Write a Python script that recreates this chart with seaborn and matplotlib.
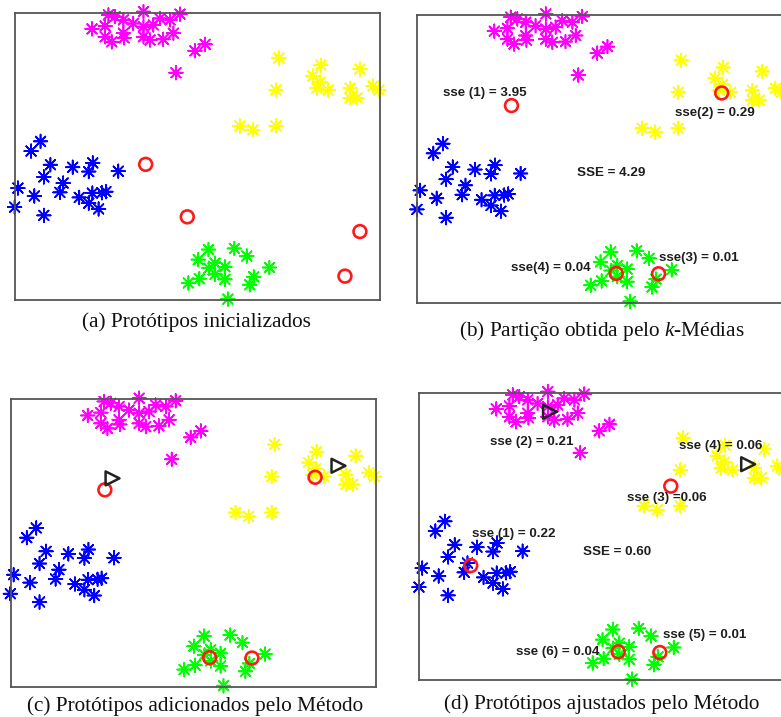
import numpy as np
import pandas as pd
import matplotlib
matplotlib.use("Agg")
import matplotlib.pyplot as plt
import seaborn as sns

# ---- data -------------------------------------------------------------
mag_x = [2.11, 2.47, 2.56, 2.74, 2.47, 2.65, 2.97, 2.97, 2.99, 3.24, 3.52, 3.52,
         3.52, 3.70, 3.79, 3.97, 4.06, 4.25, 4.34, 4.52, 4.93, 5.21, 4.41]
mag_y = [7.55, 7.63, 7.94, 7.89, 7.33, 7.19, 7.80, 7.43, 7.30, 7.70, 8.03, 7.61,
         7.33, 7.24, 7.66, 7.84, 7.26, 7.80, 7.43, 7.96, 6.94, 7.12, 6.33]

yel_x = [7.23, 8.38, 8.16, 8.36, 8.27, 8.58, 9.45, 7.15, 9.18, 9.18, 9.37, 9.81,
         9.97, 6.16, 6.52, 7.15]
yel_y = [6.74, 6.54, 6.24, 6.07, 5.90, 5.85, 6.43, 5.85, 5.90, 5.63, 5.63, 5.96,
         5.85, 4.85, 4.74, 4.85]

blu_x = [0.70, 0.44, 0.97, 1.58, 2.13, 2.02, 2.83, 0.79, 1.32, 1.23, 0.08, 0.53,
         1.76, 2.12, 2.38, 2.49, 2.02, 2.29, -0.01, 0.79]
blu_y = [4.42, 4.15, 3.77, 3.70, 3.82, 3.58, 3.59, 3.43, 3.26, 3.00, 3.12, 2.90,
         2.86, 2.98, 2.99, 3.02, 2.70, 2.54, 2.59, 2.36]

grn_x = [5.30, 6.01, 5.02, 6.35, 5.48, 5.31, 5.75, 5.48, 5.75, 6.97, 6.54, 6.43,
         4.75, 5.05, 5.83]
grn_y = [1.41, 1.44, 1.13, 1.23, 1.03, 0.89, 0.93, 0.72, 0.58, 0.91, 0.65, 0.43,
         0.48, 0.60, 0.03]

# prototypes (red circles) per stage
proto_init_x = [3.58, 4.72, 9.45, 9.04]
proto_init_y = [3.78, 2.32, 1.91, 0.67]
proto_km_x = [2.58, 8.34, 5.45, 6.61]
proto_km_y = [5.48, 5.83, 0.81, 0.80]
proto_adj_x = [1.41, 6.89, 5.45, 6.59]
proto_adj_y = [3.19, 5.40, 0.79, 0.77]

# prototypes added by the method (black triangles)
added_c_x = [2.79, 8.98]
added_c_y = [5.80, 6.15]
added_d_x = [3.58, 9.01]
added_d_y = [7.47, 6.01]

# error labels
sse_b = ["sse (1) = 3.95", "sse(2) = 0.29", "SSE = 4.29", "sse(4) = 0.04", "sse(3) = 0.01"]
sse_b_x = [1.85, 8.14, 5.32, 3.66, 7.72]
sse_b_y = [5.83, 5.27, 3.60, 0.96, 1.24]
sse_d = ["sse (2) = 0.21", "sse (4) = 0.06", "sse (3) =0.06", "sse (1) = 0.22",
         "SSE = 0.60", "sse (5) = 0.01", "sse (6) = 0.04"]
sse_d_x = [3.07, 8.27, 6.79, 2.58, 5.42, 7.81, 3.79]
sse_d_y = [6.64, 6.52, 5.07, 4.07, 3.57, 1.26, 0.78]

captions = ["(a) Protótipos inicializados",
            "(b) Partição obtida pelo $\\mathit{k}$-Médias",
            "(c) Protótipos adicionados pelo Método",
            "(d) Protótipos ajustados pelo Método"]

groups = ["g1", "g2", "g3", "g4"]
palette = {"g1": "#ff00ff", "g2": "#ffff00", "g3": "#0000ff", "g4": "#00ff00"}

pts = pd.DataFrame({
    "x": mag_x + yel_x + blu_x + grn_x,
    "y": mag_y + yel_y + blu_y + grn_y,
    "grupo": ["g1"] * len(mag_x) + ["g2"] * len(yel_x)
             + ["g3"] * len(blu_x) + ["g4"] * len(grn_x),
})

# ---- figure -----------------------------------------------------------
sns.set_style("white")
plt.rcParams["mathtext.fontset"] = "custom"
plt.rcParams["mathtext.it"] = "Liberation Serif:italic"
plt.rcParams["mathtext.rm"] = "Liberation Serif"

W, H = 781, 717
fig = plt.figure(figsize=(W / 100, H / 100), dpi=100)

# axes boxes in pixels: left, top
boxes = [(15.0, 12.7), (417.3, 15.0), (10.7, 399.3), (419.3, 392.7)]
AW, AH = 365.0, 287.5
cap_pos = [(196, 327), (602, 336), (195, 711), (602, 709)]

asterisk = (8, 2, 0)


def make_axes(left, top):
    ax = fig.add_axes([left / W, 1 - (top + AH) / H, AW / W, AH / H])
    ax.set_xlim(0, 10)
    ax.set_ylim(0, 8)
    ax.set_xticks([])
    ax.set_yticks([])
    for s in ax.spines.values():
        s.set_color("#555555")
        s.set_linewidth(1.3)
        s.set_visible(True)
    return ax


def draw_points(ax):
    sns.scatterplot(data=pts, x="x", y="y", hue="grupo", palette=palette,
                    hue_order=groups, marker=asterisk, s=95, linewidth=1.2,
                    legend=False, ax=ax, clip_on=False, zorder=2)
    ax.set_xlabel("")
    ax.set_ylabel("")


def draw_protos(ax, xs, ys):
    ax.scatter(xs, ys, s=85, facecolors="none", edgecolors="#ff1a1a",
               linewidths=1.9, zorder=4, clip_on=False)


def draw_added(ax, xs, ys):
    ax.scatter(xs, ys, marker=">", s=100, facecolors="none",
               edgecolors="#222222", linewidths=1.8, zorder=5, clip_on=False)


def draw_labels(ax, texts, xs, ys):
    for t, x, y in zip(texts, xs, ys):
        ax.text(x, y, t, ha="center", va="center", fontsize=9.6,
                fontweight="bold", family="Liberation Sans", color="#1e1e1e",
                zorder=6)


axes = [make_axes(*b) for b in boxes]
for ax in axes:
    draw_points(ax)

draw_protos(axes[0], proto_init_x, proto_init_y)
draw_protos(axes[1], proto_km_x, proto_km_y)
draw_labels(axes[1], sse_b, sse_b_x, sse_b_y)
draw_protos(axes[2], proto_km_x, proto_km_y)
draw_added(axes[2], added_c_x, added_c_y)
draw_protos(axes[3], proto_adj_x, proto_adj_y)
draw_added(axes[3], added_d_x, added_d_y)
draw_labels(axes[3], sse_d, sse_d_x, sse_d_y)

for txt, (cx, cy) in zip(captions, cap_pos):
    fig.text(cx / W, 1 - cy / H, txt, ha="center", va="baseline",
             fontsize=15.3, family="Liberation Serif", color="#111111")

fig.savefig("out.png", dpi=100, facecolor="white")
